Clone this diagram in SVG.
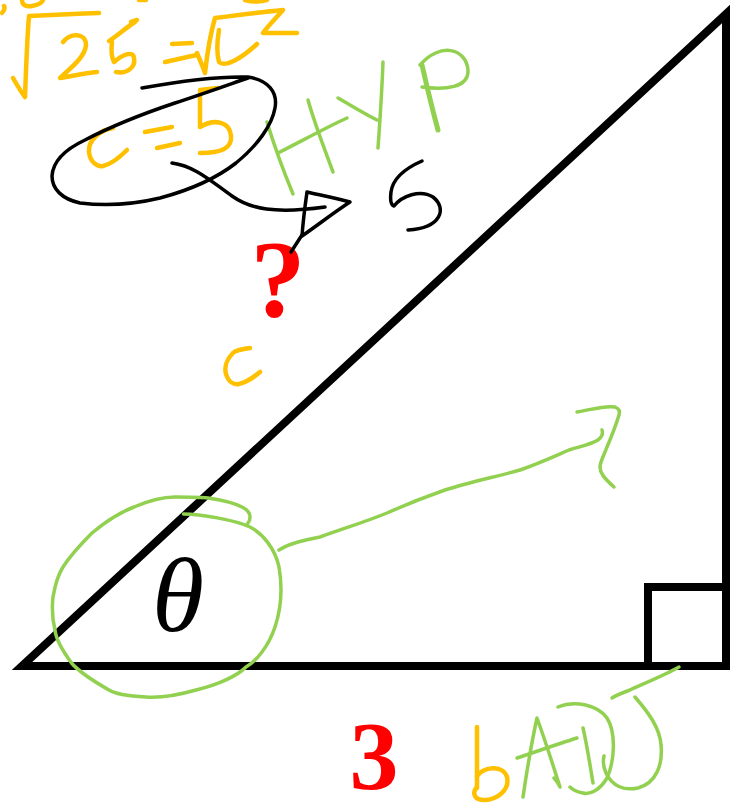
<svg xmlns="http://www.w3.org/2000/svg" width="731" height="807" viewBox="0 0 731 807">
<style>
.o{fill:none;stroke:#FFC000;stroke-width:4.5;stroke-linecap:round;stroke-linejoin:round}
.g{fill:none;stroke:#92D050;stroke-width:3.5;stroke-linecap:round;stroke-linejoin:round}
.k{fill:none;stroke:#000;stroke-width:3.5;stroke-linecap:round;stroke-linejoin:round}
.red{fill:#FF0000;font-family:"Liberation Serif",serif;font-weight:bold;text-anchor:middle}
</style>
<rect width="731" height="807" fill="#fff"/>
<g id="triangle">
<polygon points="22,666 726,14 726,666" fill="none" stroke="#000" stroke-width="8" stroke-linejoin="miter"/>
<polyline points="648,666 648,587 726,587" fill="none" stroke="#000" stroke-width="8"/>
</g>
<g id="theta">
<text x="178" y="631" font-family="Liberation Serif,serif" font-style="italic" font-size="106" text-anchor="middle">θ</text>
<path class="g" d="M183.5 514 C200 514,235 520,250 527 C262 533,275 548,279 567 C283 590,280 612,275 627 C268 648,255 662,246 667 C238 675,220 684,196 690 C175 696,160 698,146 697 C128 696,115 694,109 690 C95 682,80 673,71.5 663 C62 650,56 640,55 630 C52 618,52 606,53 597 C55 585,58 575,63 567 C72 553,82 543,92 533 C105 522,118 513,134 507 C148 501,162 497,175 497 C190 497,200 497,208 498 C222 500,234 503,242 507 C248 510,250 514,250 517 C250 520,249 522,248 523"/>
<path class="g" d="M279 550 C290 543,305 540,320 537 C345 528,365 522,387 513 C405 505,425 497,445 490 C470 482,495 477,520 470 C540 463,555 456,569 450 C582 446,592 444,598 440 C602 437,603 433,602 430"/>
<path class="g" d="M577 412 C590 410,605 405,615 407 C620 409,620 412,619 415 C615 428,610 440,607 447 C604 455,600 462,600 467 C600 473,604 478,614 487"/>
</g>
<g id="hypotenuse-labels">
<text class="red" x="278" y="316" font-size="110">?</text>
<path class="o" d="M250 348 C242 349,236 350,233 353 C227 359,224 367,226 374 C228 381,233 385,239 384 C248 382,254 377,260 372"/>
<path class="g" d="M267 122 C274 145,283 170,293 194"/>
<path class="g" d="M308 100 C315 125,325 150,333 172"/>
<path class="g" d="M278 153 C300 142,325 128,347 118"/>
<path class="g" d="M338 98 C352 106,365 114,377 120"/>
<path class="g" d="M383 62 C382 90,380 120,378 148"/>
<path class="g" d="M422 65 C427 87,432 108,438 130" style="stroke-width:5"/>
<path class="g" d="M420 65 C440 42,466 48,468 70 C469 88,445 90,422 87"/>
<path class="k" d="M422 161 C406 168,393 177,391 192 C390 200,391 205,394 206 C402 196,420 189,433 197 C447 208,442 228,408 230"/>
</g>
<g id="equation">
<path class="o" d="M2 13 C4 11,5 8,4 6"/>
<path class="o" d="M22 0 C22 5,26 7,32 6 C38 5,42 3,43 0"/>
<path class="o" d="M139 0 L146 0"/>
<path class="o" d="M245 0 C252 2,262 2,267 0"/>
<path class="o" d="M131 22 L137 20"/>
<path class="o" d="M13 78 C17 85,21 92,25 97 C26 70,27 40,29 16 C50 15,75 14,99 13"/>
<path class="o" d="M63 42 C70 33,86 32,86 45 C85 58,68 70,60 78 C72 76,86 73,97 72"/>
<path class="o" d="M109 41 C118 35,127 27,135 22"/>
<path class="o" d="M112 42 C111 50,112 58,114 62 C122 55,133 50,134 58 C136 68,126 74,116 72"/>
<path class="o" d="M172 44 L192 43"/>
<path class="o" d="M165 62 C175 60,186 57,197 55"/>
<path class="o" d="M197 53 C200 60,203 67,205 73 C207 55,210 35,215 18 C238 15,262 12,283 10 C276 18,268 26,263 33 C275 33,286 33,297 33"/>
<path class="o" d="M219 30 C217 42,217 55,219 62 C225 68,242 58,257 44"/>
</g>
<g id="c-equals-5">
<path class="o" d="M113 128 C100 130,88 140,89 152 C90 162,97 167,103 166 C112 164,120 157,127 150"/>
<path class="o" d="M145 132 L172 127"/>
<path class="o" d="M157 148 L180 143"/>
<path class="o" d="M200 90 L218 88"/>
<path class="o" d="M200 93 L200 127 C215 118,230 122,231 136 C232 148,222 153,200 153"/>
<path class="k" d="M142 88 C175 82,215 76,248 77 C268 80,278 92,275 108 C272 125,258 145,236 163 C218 177,190 190,160 198 C135 204,105 206,80 203 C62 199,52 189,52 176 C53 160,68 148,85 140 C110 127,145 113,175 103 C200 95,225 86,248 78"/>
<path class="k" d="M172 163 C195 166,212 182,232 196 C250 209,275 214,325 207"/>
<path class="k" d="M307 192 C320 195,335 198,350 202 C333 213,318 225,302 236 C303 222,305 206,307 192"/>
<path class="k" d="M302 235 L291 252"/>
</g>
<g id="base-labels">
<text class="red" x="374" y="789" font-size="98">3</text>
<path class="o" d="M477 727 C477 748,477 768,477 788"/>
<path class="o" d="M477 776 C483 767,503 764,507 777 C510 790,497 800,484 800 C475 800,472 794,476 788"/>
<path class="g" d="M523 797 C527 770,531 745,537 718 C545 740,553 765,560 787 C558 783,556 780,554 778"/>
<path class="g" d="M517 758 C535 752,558 744,577 738"/>
<path class="g" d="M583 728 C587 745,590 765,593 783"/>
<path class="g" d="M558 707 C575 700,598 705,607 718 C616 732,615 760,607 778 C600 790,590 795,583 793 C577 792,573 790,570 787"/>
<path class="g" d="M635 697 C648 712,660 728,661 745 C663 765,656 783,638 788 C624 791,612 786,606 773 C603 766,603 760,604 756"/>
<path class="g" d="M679 667 C665 675,645 683,630 690 C622 693,615 696,612 698"/>
</g>
</svg>
